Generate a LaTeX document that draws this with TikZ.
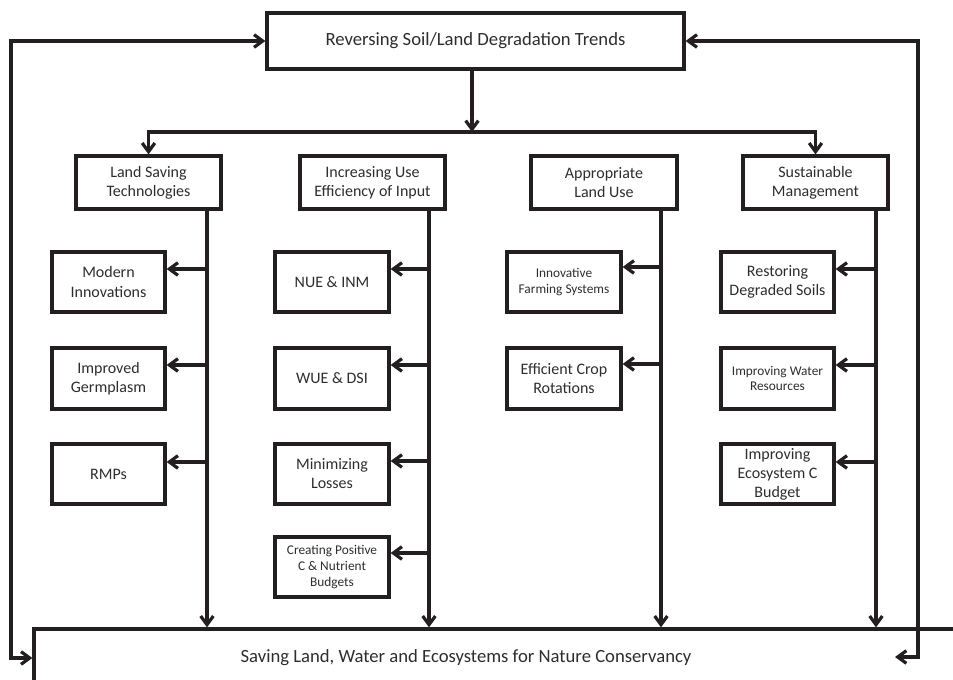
\documentclass[tikz,border=0pt]{standalone}
\usepackage{fontspec}
\setmainfont{Carlito}
\usetikzlibrary{arrows.meta}
\definecolor{ink}{RGB}{35,31,32}
\definecolor{txt}{RGB}{45,45,45}
\tikzset{
  box/.style={draw=ink, line width=2.4pt, inner sep=0pt, align=center, text=txt},
  sz/.style 2 args={minimum width=#1*0.75pt, minimum height=#2*0.75pt},
  big/.style={font=\fontsize{14}{17}\selectfont},
  mid/.style={font=\fontsize{12}{14.3}\selectfont},
  small/.style={font=\fontsize{10}{11.9}\selectfont},
  tip/.tip={Straight Barb[length=6.5pt,width=9.5pt]},
  flow/.style={draw=ink, line width=2.4pt, -tip},
  loop/.style={draw=ink, line width=2.4pt, tip-tip},
}
\begin{document}
\begin{tikzpicture}[x=0.75pt,y=-0.75pt]
\useasboundingbox (0,0) rectangle (953,680);
\clip (0,0) rectangle (953,680);

% top goal and bottom outcome
\node[box,big,sz={417}{56}] (top) at (475.5,41) {Reversing Soil/Land Degradation Trends};
\node[box,sz={956}{58}] (bottom) at (512,658) {};
\node[big,text=txt] (bottomlabel) at (466,658) {Saving Land, Water and Ecosystems for Nature Conservancy};

% four strategy boxes
\node[box,mid,sz={145}{53}] (cat1) at (148.5,182.5) {Land Saving\\Technologies};
\node[box,mid,sz={145}{53}] (cat2) at (372.5,182.5) {Increasing Use\\Efficiency of Input};
\node[box,mid,sz={146}{53}] (cat3) at (604,182.5)   {Appropriate\\Land Use};
\node[box,mid,sz={145}{53}] (cat4) at (815.5,182.5) {Sustainable\\Management};

% column 1
\node[box,mid,sz={113}{60}] (m11) at (108.5,282)   {Modern\\Innovations};
\node[box,mid,sz={113}{61}] (m12) at (108.5,378.5) {Improved\\Germplasm};
\node[box,mid,sz={113}{60}] (m13) at (108.5,474)   {RMPs};

% column 2
\node[box,mid,sz={114}{60}]   (m21) at (332,282)   {NUE \& INM};
\node[box,mid,sz={114}{61}]   (m22) at (332,378.5) {WUE \& DSI};
\node[box,mid,sz={114}{60}]   (m23) at (332,474)   {Minimizing\\Losses};
\node[box,small,sz={114}{60}] (m24) at (332,567)   {Creating Positive\\C \& Nutrient\\Budgets};

% column 3
\node[box,small,sz={114}{60}] (m31) at (564,282)   {Innovative\\Farming Systems};
\node[box,mid,sz={114}{61}]   (m32) at (564,378.5) {Efficient Crop\\Rotations};

% column 4
\node[box,mid,sz={113}{60}]   (m41) at (777.5,282)   {Restoring\\Degraded Soils};
\node[box,small,sz={113}{61}] (m42) at (777.5,378.5) {Improving Water\\Resources};
\node[box,mid,sz={113}{60}]   (m43) at (777.5,474)   {Improving\\Ecosystem C\\Budget};

% split from the goal to the strategies
\coordinate (split) at (472,132);
\draw[flow] (top.south -| split) -- (split);
\draw[flow] (split) -| (cat1.north);
\draw[flow] (split) -| (cat4.north);

% trunks from each strategy down to the outcome
\coordinate (d1) at (207,0);
\coordinate (d2) at (429,0);
\coordinate (d3) at (661,0);
\coordinate (d4) at (876,0);
\draw[flow] (cat1.south -| d1) -- (bottom.north -| d1);
\draw[flow] (cat2.south -| d2) -- (bottom.north -| d2);
\draw[flow] (cat3.south -| d3) -- (bottom.north -| d3);
\draw[flow] (cat4.south -| d4) -- (bottom.north -| d4);

% branches to the practices
\coordinate (b11) at (207,269);
\coordinate (b12) at (207,365);
\coordinate (b13) at (207,462);
\draw[flow] (b11) -- (b11 -| m11.east);
\draw[flow] (b12) -- (b12 -| m12.east);
\draw[flow] (b13) -- (b13 -| m13.east);

\coordinate (b21) at (429,269);
\coordinate (b22) at (429,365);
\coordinate (b23) at (429,461);
\coordinate (b24) at (429,553);
\draw[flow] (b21) -- (b21 -| m21.east);
\draw[flow] (b22) -- (b22 -| m22.east);
\draw[flow] (b23) -- (b23 -| m23.east);
\draw[flow] (b24) -- (b24 -| m24.east);

\coordinate (b31) at (661,267);
\coordinate (b32) at (661,364);
\draw[flow] (b31) -- (b31 -| m31.east);
\draw[flow] (b32) -- (b32 -| m32.east);

\coordinate (b41) at (876,269);
\coordinate (b42) at (876,365);
\coordinate (b43) at (876,462);
\draw[flow] (b41) -- (b41 -| m41.east);
\draw[flow] (b42) -- (b42 -| m42.east);
\draw[flow] (b43) -- (b43 -| m43.east);

% feedback loops on both sides
\coordinate (lcol) at (11,0);
\coordinate (rcol) at (918,0);
\coordinate (rin) at (895,657);
\draw[loop] (top.west) -- (top.west -| lcol) |- (bottom.west);
\draw[loop] (top.east) -- (top.east -| rcol) |- (rin);
\end{tikzpicture}
\end{document}
